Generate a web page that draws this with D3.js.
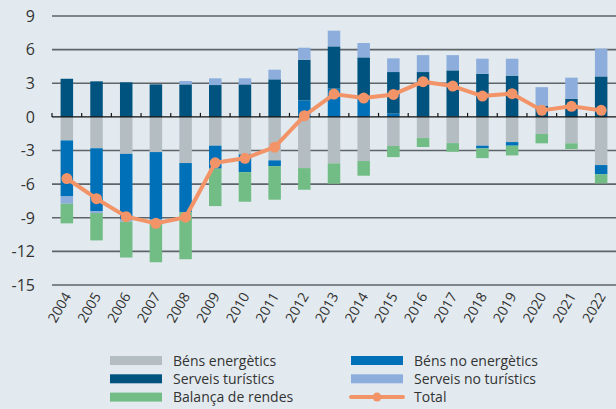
<!DOCTYPE html>
<html>
<head>
<meta charset="utf-8">
<script src="https://cdn.jsdelivr.net/npm/d3@7"></script>
<style>
  html, body { margin: 0; padding: 0; background: #e2eaef; }
  #chart { width: 616px; height: 409px; }
  text { font-family: "Open Sans", sans-serif; fill: #333; }
</style>
</head>
<body>
<div id="chart"></div>
<script>
const years = ["2004","2005","2006","2007","2008","2009","2010","2011","2012","2013",
  "2014","2015","2016","2017","2018","2019","2020","2021","2022"];
const bensEnergetics = [-2.1,-2.8,-3.3,-3.14,-4.12,-2.57,-3.35,-3.88,-4.57,-4.15,
  -3.94,-2.6,-1.89,-2.34,-2.57,-2.25,-1.53,-2.36,-4.3];
const bensNoEnergetics = [-5.0,-5.6,-5.85,-6.03,-4.38,-2.05,-1.58,-0.51,1.47,2.52,
  1.53,0.29,0.05,0.05,-0.24,-0.32,0,0,-0.83];
const serveisTuristics = [3.4,3.17,3.08,2.9,2.9,2.84,2.9,3.35,3.63,3.77,
  3.78,3.71,3.95,4.1,3.85,3.68,1.0,1.62,3.61];
const serveisNoTuristics = [-0.65,-0.18,-0.2,-0.1,0.3,0.6,0.54,0.86,1.07,1.4,
  1.28,1.22,1.51,1.36,1.34,1.51,1.65,1.88,2.47];
const balancaRendes = [-1.75,-2.44,-3.2,-3.7,-4.2,-3.34,-2.64,-3.0,-1.93,-1.81,
  -1.31,-0.99,-0.8,-0.77,-0.87,-0.87,-0.83,-0.51,-0.8];
const total = [-5.5,-7.3,-8.9,-9.5,-8.95,-4.1,-3.7,-2.7,0.1,2.03,
  1.68,2.0,3.14,2.75,1.86,2.07,0.58,0.94,0.58];
const yTicks = [9,6,3,0,-3,-6,-9,-12,-15];

const series = [
  { key: "Béns energètics", values: bensEnergetics, color: "#b3bdc2" },
  { key: "Béns no energètics", values: bensNoEnergetics, color: "#0071b9" },
  { key: "Serveis turístics", values: serveisTuristics, color: "#00527f" },
  { key: "Serveis no turístics", values: serveisNoTuristics, color: "#8daedd" },
  { key: "Balança de rendes", values: balancaRendes, color: "#72bd85" }
];
const totalColor = "#f39468";

const width = 616, height = 409;
const margin = { top: 16, right: 0, bottom: 124, left: 52 };

const svg = d3.select("#chart").append("svg")
  .attr("width", width).attr("height", height);

const x = d3.scaleBand().domain(years).range([margin.left, width]).padding(0);
const y = d3.scaleLinear().domain([-15, 9]).range([285, 16]);

const rows = years.map((yr, i) => {
  const r = { year: yr };
  series.forEach(s => r[s.key] = s.values[i]);
  return r;
});
const stacked = d3.stack().keys(series.map(s => s.key))
  .offset(d3.stackOffsetDiverging)(rows);

// grid
svg.append("g").selectAll("line")
  .data(yTicks.filter(t => t !== 0))
  .join("line")
  .attr("x1", margin.left).attr("x2", width)
  .attr("y1", d => y(d)).attr("y2", d => y(d))
  .attr("stroke", "#5e6468").attr("stroke-width", 1.6);

svg.append("g").selectAll("text")
  .data(yTicks)
  .join("text")
  .attr("x", 35).attr("y", d => y(d))
  .attr("dy", "0.36em")
  .attr("text-anchor", "end")
  .attr("font-size", 16)
  .text(d => d);

// bars
const barW = 12.5;
svg.append("g").selectAll("g")
  .data(stacked)
  .join("g")
  .attr("fill", (d, i) => series[i].color)
  .selectAll("rect")
  .data(d => d)
  .join("rect")
  .attr("x", d => x(d.data.year) + x.bandwidth() / 2 - barW / 2)
  .attr("y", d => y(Math.max(d[0], d[1])))
  .attr("height", d => Math.abs(y(d[0]) - y(d[1])))
  .attr("width", barW);

// zero axis with ticks
const zero = svg.append("g");
zero.append("line")
  .attr("x1", margin.left).attr("x2", width)
  .attr("y1", y(0)).attr("y2", y(0))
  .attr("stroke", "#111").attr("stroke-width", 1.4);
zero.selectAll("line.tk")
  .data(years)
  .join("line")
  .attr("class", "tk")
  .attr("x1", d => x(d)).attr("x2", d => x(d))
  .attr("y1", y(0)).attr("y2", y(0) - 4)
  .attr("stroke", "#111").attr("stroke-width", 1.2);

// total line
const line = d3.line()
  .x((d, i) => x(years[i]) + x.bandwidth() / 2)
  .y(d => y(d));
svg.append("path")
  .datum(total)
  .attr("d", line)
  .attr("fill", "none")
  .attr("stroke", totalColor)
  .attr("stroke-width", 4)
  .attr("stroke-linejoin", "round");
svg.append("g").selectAll("circle")
  .data(total)
  .join("circle")
  .attr("cx", (d, i) => x(years[i]) + x.bandwidth() / 2)
  .attr("cy", d => y(d))
  .attr("r", 5.5)
  .attr("fill", totalColor);

// x labels
svg.append("g").selectAll("text")
  .data(years)
  .join("text")
  .attr("transform", d => `translate(${x(d) + x.bandwidth() / 2 + 5},${296}) rotate(-60)`)
  .attr("text-anchor", "end")
  .attr("font-size", 14)
  .text(d => d);

// legend
const legend = svg.append("g");
const legItems = [
  { label: series[0].key, color: series[0].color, col: 0, row: 0 },
  { label: series[1].key, color: series[1].color, col: 1, row: 0 },
  { label: series[2].key, color: series[2].color, col: 0, row: 1 },
  { label: series[3].key, color: series[3].color, col: 1, row: 1 },
  { label: series[4].key, color: series[4].color, col: 0, row: 2 },
  { label: "Total", color: totalColor, col: 1, row: 2, line: true }
];
const colX = [110, 351];
legItems.forEach(it => {
  const lx = colX[it.col], ly = 360.5 + it.row * 18.3;
  if (it.line) {
    legend.append("line")
      .attr("x1", lx).attr("x2", lx + 52)
      .attr("y1", ly).attr("y2", ly)
      .attr("stroke", it.color).attr("stroke-width", 4)
      .attr("stroke-linecap", "round");
    legend.append("circle").attr("cx", lx + 26).attr("cy", ly).attr("r", 4.5)
      .attr("fill", it.color);
  } else {
    legend.append("rect")
      .attr("x", lx).attr("y", ly - 4.5)
      .attr("width", 52).attr("height", 9)
      .attr("fill", it.color);
  }
  legend.append("text")
    .attr("x", lx + 63).attr("y", ly)
    .attr("dy", "0.36em")
    .attr("font-size", 14)
    .text(it.label);
});
</script>
</body>
</html>
